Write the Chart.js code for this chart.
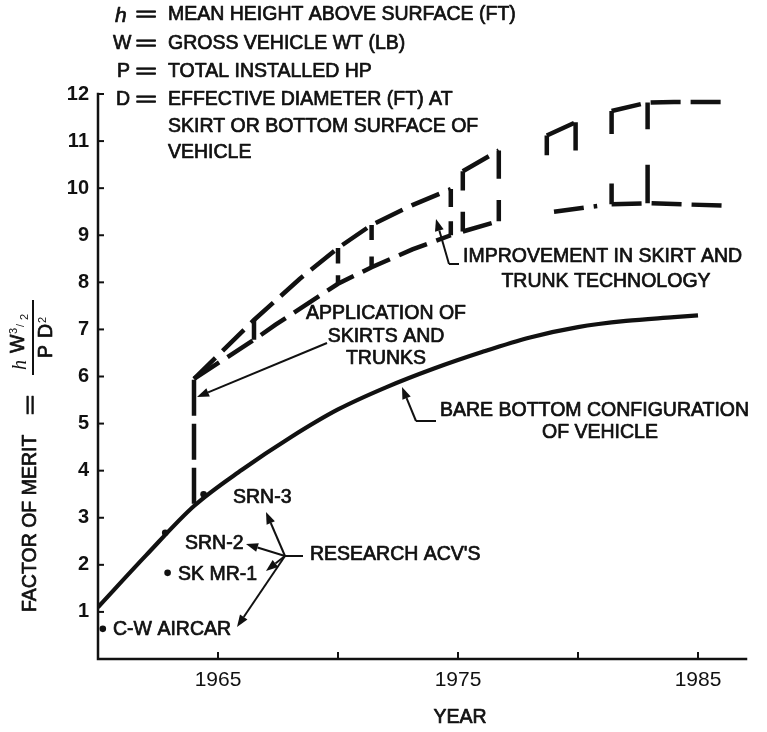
<!DOCTYPE html>
<html>
<head>
<meta charset="utf-8">
<script src="https://cdn.jsdelivr.net/npm/chart.js@4.4.1/dist/chart.umd.min.js"></script>
<style>
  html, body { margin: 0; padding: 0; background: #fff; }
  #wrap { width: 767px; height: 732px; }
</style>
</head>
<body>
<div id="wrap"><canvas id="chart" width="767" height="732"></canvas></div>
<script>
// ---- values ----
const years = [1960, 1962, 1964, 1966, 1968, 1970, 1972, 1974, 1976, 1978, 1980, 1982, 1984, 1985];
const bareBottom = [1.1, 2.2, 3.25, 4.02, 4.7, 5.3, 5.77, 6.17, 6.52, 6.83, 7.05, 7.18, 7.26, 7.3];

// drop where skirts and trunks were applied
const skirtYears = [1964.0, 1964.0];
const skirtValues = [3.3, 5.95];

// skirt / trunk improvement band (null = break between stages)
const upperYears  = [1964.0, 1966.5, 1968.4, 1970.0, 1971.4, 1973.1, 1974.7, null, 1975.2, 1976.7, null, 1978.7, 1979.9, null, 1981.4, 1982.9, 1984.0, 1986.0];
const upperValues = [5.95,   7.2,    8.07,   8.73,   9.22,   9.64,   9.98,   null, 10.36,  10.8,   null, 11.12,  11.4,   null, 11.64,  11.82,  11.83,  11.83];
const lowerYears  = [1964.0, 1966.5, 1967.4, 1968.8, 1970.0, 1971.4, 1973.1, 1974.7, null, 1975.2, 1976.7, null, 1979.0, 1980.8, null, 1981.4, 1982.9, 1986.0];
const lowerValues = [5.95,   6.78,   7.1,    7.57,   7.97,   8.32,   8.7,    9.0,    null, 9.08,   9.3,    null, 9.5,    9.62,   null, 9.66,   9.68,   9.63];

// vertical steps of the band: a stub hangs from the upper edge and one rises from the lower edge
const rungYears    = [1966.5, 1970.0, 1971.4, 1974.7, 1975.2, 1976.7, 1978.7, 1979.9, 1981.4, 1982.9];
const rungHigh     = [7.2,    8.73,   9.22,   9.98,   10.36,  10.8,   11.12,  11.4,   11.64,  11.82];
const rungHighStub = [6.78,   8.4,    8.9,    9.6,    9.95,   10.2,   10.7,   10.8,   11.15,  11.25];
const rungLow      = [null,   7.97,   8.32,   9.0,    9.08,   9.3,    null,   null,   9.66,   9.68];
const rungLowStub  = [null,   8.15,   8.55,   9.3,    9.5,    9.75,   null,   null,   10.1,   10.5];

// research air cushion vehicles
const vehicleNames  = ['SRN-3', 'SRN-2', 'SK MR-1', 'C-W AIRCAR'];
const vehicleYears  = [1964.4, 1962.8, 1962.9, 1960.2];
const vehicleValues = [3.5, 2.68, 1.83, 0.64];

const xTickMarks = [1965, 1970, 1975, 1980, 1985];
const xTickLabels = [1965, 1975, 1985];
const yTicks = [1, 2, 3, 4, 5, 6, 7, 8, 9, 10, 11, 12];

// ---- helpers ----
const INK = '#111';
const FONT = '"Liberation Sans", Arial, Helvetica, sans-serif';
const pts = (xs, ys) => xs.map((x, i) => ({ x: x, y: ys[i] }));

const rungs = [];
rungYears.forEach((yr, i) => {
  rungs.push({ x: yr, y: rungHigh[i] }, { x: yr, y: rungHighStub[i] }, { x: null, y: null });
  if (rungLow[i] !== null) {
    rungs.push({ x: yr, y: rungLow[i] }, { x: yr, y: rungLowStub[i] }, { x: null, y: null });
  }
});

const dashed = {
  borderColor: INK, borderWidth: 4.5, borderDash: [30, 10], pointRadius: 0,
  showLine: true, fill: false, tension: 0, spanGaps: false, borderCapStyle: 'butt',
};

function line(ctx, x1, y1, x2, y2) {
  ctx.beginPath(); ctx.moveTo(x1, y1); ctx.lineTo(x2, y2); ctx.stroke();
}

function arrow(ctx, x1, y1, x2, y2) {
  const ang = Math.atan2(y2 - y1, x2 - x1), len = 12, half = 4.5;
  const bx = x2 - Math.cos(ang) * len, by = y2 - Math.sin(ang) * len;
  line(ctx, x1, y1, bx, by);
  ctx.beginPath();
  ctx.moveTo(x2, y2);
  ctx.lineTo(bx + Math.sin(ang) * half, by - Math.cos(ang) * half);
  ctx.lineTo(bx - Math.sin(ang) * half, by + Math.cos(ang) * half);
  ctx.closePath(); ctx.fill();
}

// text with a thin outline so it has the weight of the printed lettering
function text(ctx, s, x, y, align, size, style) {
  ctx.save();
  ctx.font = `${style || ''} ${size || 19.5}px ${FONT}`;
  ctx.textAlign = align || 'left';
  ctx.textBaseline = 'middle';
  ctx.lineWidth = 0.7; ctx.lineJoin = 'round';
  ctx.fillText(s, x, y);
  ctx.strokeText(s, x, y);
  ctx.restore();
}

function wideEquals(ctx, cx, cy, size) {
  ctx.save();
  ctx.translate(cx, cy); ctx.scale(1.9, 1);
  text(ctx, '=', 0, 0, 'center', size || 20);
  ctx.restore();
}

const figurePlugin = {
  id: 'figure',
  afterDraw(chart) {
    const { ctx, chartArea: a, scales: { x, y } } = chart;
    ctx.save();
    ctx.fillStyle = INK; ctx.strokeStyle = INK;

    // axes with inward ticks
    ctx.lineWidth = 2.5; ctx.lineCap = 'square';
    ctx.beginPath();
    ctx.moveTo(a.left, a.top); ctx.lineTo(a.left, a.bottom); ctx.lineTo(a.right, a.bottom);
    ctx.stroke();
    ctx.lineCap = 'butt'; ctx.lineWidth = 2;
    yTicks.forEach(v => { const py = y.getPixelForValue(v); line(ctx, a.left, py, a.left + 6, py); });
    xTickMarks.forEach(v => { const px = x.getPixelForValue(v); line(ctx, px, a.bottom, px, a.bottom - 7); });

    // x axis title
    text(ctx, 'YEAR', 460, 718, 'center', 19.5);

    // y axis title: FACTOR OF MERIT = h W^3/2 / P D^2
    ctx.save();
    ctx.rotate(-Math.PI / 2);   // local (lx, ly) -> screen (ly, -lx)
    text(ctx, 'FACTOR OF MERIT', -612, 31, 'left', 19.5);
    ctx.save(); ctx.translate(-405, 31); ctx.scale(1.8, 1);
    text(ctx, '=', 0, 0, 'center', 20);
    ctx.restore();
    ctx.textBaseline = 'alphabetic'; ctx.textAlign = 'left';
    ctx.font = `italic 20px "Liberation Serif", serif`;
    ctx.fillText('h', -370, 26);
    text(ctx, 'W', -353, 19, 'left', 19.5);
    ctx.font = `11px ${FONT}`;
    ctx.fillText('3', -334, 17);
    ctx.fillText('/', -327, 24);
    ctx.fillText('2', -320, 28);
    ctx.lineWidth = 2;
    line(ctx, -375, 33, -300, 33);
    text(ctx, 'P', -358, 47, 'left', 19.5);
    text(ctx, 'D', -338, 47, 'left', 19.5);
    ctx.font = `11px ${FONT}`;
    ctx.fillText('2', -323, 46);
    ctx.restore();

    // definitions at top
    const defY = [15, 44, 72, 100, 127, 153];
    text(ctx, 'h', 115, defY[0] + 1, 'left', 21, 'italic');
    text(ctx, 'W', 113, defY[1]);
    text(ctx, 'P', 117, defY[2]);
    text(ctx, 'D', 116, defY[3]);
    defY.slice(0, 4).forEach(yy => wideEquals(ctx, 146, yy));
    text(ctx, 'MEAN HEIGHT ABOVE SURFACE (FT)', 168, defY[0]);
    text(ctx, 'GROSS VEHICLE WT (LB)', 168, defY[1]);
    text(ctx, 'TOTAL INSTALLED HP', 168, defY[2]);
    text(ctx, 'EFFECTIVE DIAMETER (FT) AT', 168, defY[3]);
    text(ctx, 'SKIRT OR BOTTOM SURFACE OF', 168, defY[4]);
    text(ctx, 'VEHICLE', 168, defY[5]);

    // callouts
    ctx.lineWidth = 2;
    text(ctx, 'IMPROVEMENT IN SKIRT AND', 463, 257);
    text(ctx, 'TRUNK TECHNOLOGY', 606, 282, 'center');
    line(ctx, 449, 264, 459, 264); arrow(ctx, 449, 264, 436, 219);

    text(ctx, 'APPLICATION OF', 386, 314, 'center');
    text(ctx, 'SKIRTS AND', 386, 337, 'center');
    text(ctx, 'TRUNKS', 386, 359, 'center');
    arrow(ctx, 327, 343, 197, 397);

    text(ctx, 'BARE BOTTOM CONFIGURATION', 440, 411);
    text(ctx, 'OF VEHICLE', 600, 433, 'center');
    line(ctx, 416, 421, 436, 421); arrow(ctx, 416, 421, 402, 387);

    text(ctx, vehicleNames[0], 233, 498);
    text(ctx, vehicleNames[1], 185, 544);
    text(ctx, vehicleNames[2], 178, 575);
    text(ctx, vehicleNames[3], 113, 630);
    text(ctx, "RESEARCH ACV'S", 310, 555);
    line(ctx, 285, 556, 303, 556);
    arrow(ctx, 285, 556, 266, 512);
    arrow(ctx, 285, 556, 246, 544);
    arrow(ctx, 285, 556, 266, 571);
    arrow(ctx, 285, 556, 237, 627);

    ctx.restore();
  }
};

new Chart(document.getElementById('chart'), {
  type: 'scatter',
  data: {
    datasets: [
      { label: 'Bare bottom', data: pts(years, bareBottom), showLine: true, borderColor: INK, borderWidth: 4.2,
        pointRadius: 0, cubicInterpolationMode: 'monotone', fill: false },
      { label: 'Skirts applied', data: pts(skirtYears, skirtValues), ...dashed, borderDash: [36, 8] },
      { label: 'Band upper', data: pts(upperYears, upperValues), ...dashed },
      { label: 'Band lower', data: pts(lowerYears, lowerValues), ...dashed },
      { label: 'Band steps', data: rungs, ...dashed, borderDash: [] },
      { label: 'Research ACVs', data: pts(vehicleYears, vehicleValues), showLine: false,
        pointRadius: 3.3, pointBackgroundColor: INK, pointBorderWidth: 0 },
    ]
  },
  options: {
    responsive: false, animation: false, devicePixelRatio: 1,
    layout: { padding: { top: 94, right: 21, left: 0, bottom: 0 } },
    plugins: { legend: { display: false }, tooltip: { enabled: false } },
    scales: {
      x: {
        type: 'linear', min: 1960, max: 1987,
        grid: { display: false, drawTicks: false }, border: { display: false },
        afterBuildTicks: s => { s.ticks = xTickLabels.map(v => ({ value: v })); },
        ticks: { color: INK, padding: 9, font: { family: FONT, size: 21 }, callback: v => String(v) },
        afterFit: s => { s.height = 73; },
      },
      y: {
        min: 0, max: 12,
        grid: { display: false, drawTicks: false }, border: { display: false },
        afterBuildTicks: s => { s.ticks = yTicks.map(v => ({ value: v })); },
        ticks: { color: INK, padding: 9, font: { family: FONT, size: 20, weight: 'bold' } },
        afterFit: s => { s.width = 98; },
      }
    }
  },
  plugins: [figurePlugin]
});
</script>
</body>
</html>
